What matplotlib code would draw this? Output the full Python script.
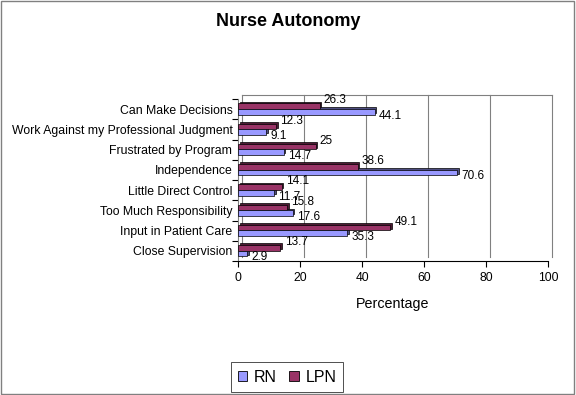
import matplotlib.pyplot as plt
import matplotlib.transforms as mtransforms
from matplotlib.patches import Rectangle, Patch

plt.rcParams['font.family'] = ['Liberation Sans', 'DejaVu Sans']

categories = ["Can Make Decisions", "Work Against my Professional Judgment",
              "Frustrated by Program", "Independence", "Little Direct Control",
              "Too Much Responsibility", "Input in Patient Care", "Close Supervision"]
rn = [44.1, 9.1, 14.7, 70.6, 11.7, 17.6, 35.3, 2.9]
lpn = [26.3, 12.3, 25, 38.6, 14.1, 15.8, 49.1, 13.7]

rn_col = "#9999FF"
lpn_col = "#993366"

fig = plt.figure(figsize=(5.76, 3.95), dpi=100)
ax = fig.add_axes([238 / 576, 134 / 395, 310 / 576, 162 / 395])
ax.set_xlim(0, 100)
ax.set_ylim(len(categories) - 0.5, -0.5)

# back wall (3D offset)
back = mtransforms.offset_copy(ax.transData, fig=fig, x=3, y=3, units='points')
n = len(categories)
for g in range(20, 101, 20):
    ax.plot([g, g], [n - 0.5, -0.5], color="#808080", lw=0.8, transform=back, zorder=0, clip_on=False)
ax.plot([0, 100], [-0.5, -0.5], color="#808080", lw=0.8, transform=back, zorder=0, clip_on=False)
ax.plot([0, 0], [n - 0.5, -0.5], color="#808080", lw=0.8, transform=back, zorder=0, clip_on=False)

h = 0.28
shade = mtransforms.offset_copy(ax.transData, fig=fig, x=1.2, y=1.2, units='points')
for i in range(n):
    yl = i - h / 2 - 0.01
    yr = i + h / 2 - 0.01
    ax.barh(yl, lpn[i], height=h, color="#4d1a33", edgecolor="black", lw=0.5, transform=shade, zorder=2)
    ax.barh(yl, lpn[i], height=h, color=lpn_col, edgecolor="black", lw=0.5, zorder=3)
    ax.barh(yr, rn[i], height=h, color="#4d4d80", edgecolor="black", lw=0.5, transform=shade, zorder=2)
    ax.barh(yr, rn[i], height=h, color=rn_col, edgecolor="black", lw=0.5, zorder=3)
    ax.annotate(f"{lpn[i]:g}", (lpn[i], yl - h / 2), xytext=(3, 2), textcoords="offset points",
                ha="left", va="center", fontsize=8.5, zorder=5)
    ax.annotate(f"{rn[i]:g}", (rn[i], yr), xytext=(3, -2.8), textcoords="offset points",
                ha="left", va="center", fontsize=8.5, zorder=5)

for s in ["top", "right"]:
    ax.spines[s].set_visible(False)
ax.spines["left"].set_color("#808080")
ax.spines["bottom"].set_color("black")
ax.spines["left"].set_linewidth(0.8)
ax.spines["bottom"].set_linewidth(0.8)

ax.set_xticks(range(0, 101, 20))
ax.tick_params(axis="x", labelsize=8.7, length=4, width=0.8, pad=4)
ax.set_yticks(range(n))
ax.set_yticklabels(categories, fontsize=8.8)
ax.tick_params(axis="y", length=0, pad=4)
ax.set_yticks([i + 0.5 for i in range(-1, n)], minor=True)
ax.tick_params(axis="y", which="minor", length=4, width=0.8, color="black")
ax.set_xlabel("Percentage", fontsize=10.3, labelpad=9)

fig.text(0.5, 1 - 22 / 395, "Nurse Autonomy", ha="center", va="center",
         fontsize=13, fontweight="bold")

handles = [Patch(facecolor=rn_col, edgecolor="black", lw=0.6, label="RN"),
           Patch(facecolor=lpn_col, edgecolor="black", lw=0.6, label="LPN")]
leg = fig.legend(handles=handles, loc="center", bbox_to_anchor=(287 / 576, 1 - 377 / 395),
                 ncol=2, fontsize=11.5, frameon=True, fancybox=False, handlelength=0.6,
                 handleheight=0.6, handletextpad=0.4, columnspacing=0.8, borderpad=0.45,
                 borderaxespad=0)
leg.get_frame().set_edgecolor("black")
leg.get_frame().set_linewidth(0.6)

fig.patches.append(Rectangle((0.002, 0.003), 0.995, 0.994, transform=fig.transFigure,
                             fill=False, edgecolor="#808080", lw=1))

fig.savefig("out.png", dpi=100)
